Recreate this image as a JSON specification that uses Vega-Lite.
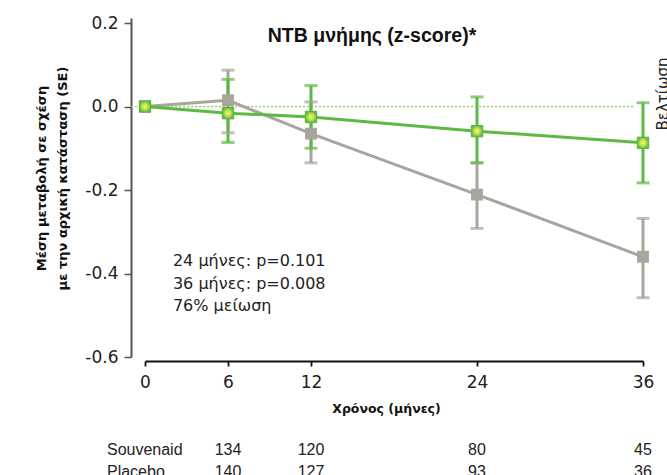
{
  "$schema": "https://vega.github.io/schema/vega-lite/v6.json",
  "width": 498,
  "height": 339,
  "autosize": {"type": "none"},
  "padding": {"left": 145, "top": 18, "right": 24, "bottom": 118},
  "background": "white",
  "config": {"view": {"stroke": null}, "font": "DejaVu Sans"},
  "title": {"text": "NTB μνήμης (z-score)*", "font": "Liberation Sans", "fontSize": 19.5, "fontWeight": "bold", "color": "#111111", "anchor": "middle", "dx": -22, "dy": 36},
  "data": {
    "values": [
      {"group": "Placebo", "t": 0, "mean": 0.0, "lo": null, "hi": null},
      {"group": "Placebo", "t": 6, "mean": 0.015, "lo": -0.063, "hi": 0.087},
      {"group": "Placebo", "t": 12, "mean": -0.065, "lo": -0.135, "hi": 0.011},
      {"group": "Placebo", "t": 24, "mean": -0.211, "lo": -0.292, "hi": -0.135},
      {"group": "Placebo", "t": 36, "mean": -0.36, "lo": -0.458, "hi": -0.268},
      {"group": "Souvenaid", "t": 0, "mean": 0.0, "lo": null, "hi": null},
      {"group": "Souvenaid", "t": 6, "mean": -0.016, "lo": -0.086, "hi": 0.065},
      {"group": "Souvenaid", "t": 12, "mean": -0.025, "lo": -0.1, "hi": 0.05},
      {"group": "Souvenaid", "t": 24, "mean": -0.059, "lo": -0.135, "hi": 0.023},
      {"group": "Souvenaid", "t": 36, "mean": -0.087, "lo": -0.183, "hi": 0.009}
    ]
  },
  "layer": [
    {
      "data": {"values": [{}]},
      "mark": {"type": "rule", "color": "#8fce6a", "strokeDash": [2, 2], "strokeWidth": 1.3},
      "encoding": {
        "x": {"datum": -1.0, "type": "quantitative"},
        "x2": {"datum": 35.4},
        "y": {"datum": 0, "type": "quantitative"}
      }
    },
    {
      "mark": {"type": "line", "strokeWidth": 3},
      "encoding": {
        "x": {
          "field": "t", "type": "quantitative",
          "scale": {"domain": [0, 36], "nice": false, "zero": false},
          "axis": {
            "values": [0, 6, 12, 24, 36], "title": "Χρόνος (μήνες)",
            "titleFont": "DejaVu Sans", "titleFontWeight": "bold", "titleFontSize": 12.5, "titleColor": "#111111",
            "titleX": 241, "titlePadding": 12,
            "labelFont": "DejaVu Sans", "labelFontSize": 17, "labelColor": "#222222", "labelPadding": 8, "labelFlush": false,
            "domainColor": "#111111", "domainWidth": 1.8, "tickColor": "#111111", "tickWidth": 1.8, "tickSize": 5,
            "offset": 4, "grid": false
          }
        },
        "y": {
          "field": "mean", "type": "quantitative",
          "scale": {"domain": [-0.6, 0.212], "nice": false, "zero": false},
          "axis": {
            "values": [-0.6, -0.4, -0.2, 0, 0.2], "format": ".1f",
            "labelExpr": "replace(datum.label, '−', '-')",
            "title": ["Μέση μεταβολή σε σχέση", "με την αρχική κατάσταση (SE)"],
            "titleFont": "DejaVu Sans", "titleFontWeight": "bold", "titleFontSize": 13, "titleColor": "#111111",
            "titleY": 160, "titlePadding": 15, "titleLineHeight": 21,
            "labelFont": "DejaVu Sans", "labelFontSize": 17, "labelColor": "#222222", "labelPadding": 6,
            "domainColor": "#555555", "domainWidth": 2, "tickColor": "#555555", "tickWidth": 1.5, "tickSize": 7,
            "offset": 14, "grid": false
          }
        },
        "color": {
          "field": "group", "type": "nominal",
          "scale": {"domain": ["Placebo", "Souvenaid"], "range": ["#a8a59d", "#5cb944"]},
          "legend": null
        }
      }
    },
    {
      "transform": [{"filter": "datum.t > 0"}],
      "mark": {"type": "rule", "strokeWidth": 3},
      "encoding": {
        "x": {"field": "t", "type": "quantitative"},
        "y": {"field": "lo", "type": "quantitative"},
        "y2": {"field": "hi"},
        "color": {"field": "group", "type": "nominal"}
      }
    },
    {
      "transform": [{"filter": "datum.t > 0"}, {"fold": ["lo", "hi"], "as": ["end", "v"]}],
      "mark": {"type": "tick", "orient": "horizontal", "size": 13, "thickness": 3},
      "encoding": {
        "x": {"field": "t", "type": "quantitative"},
        "y": {"field": "v", "type": "quantitative"},
        "color": {"field": "group", "type": "nominal"}
      }
    },
    {
      "transform": [{"filter": "datum.group == 'Placebo'"}],
      "mark": {"type": "point", "shape": "square", "filled": true, "size": 140, "color": "#a8a59d", "opacity": 1},
      "encoding": {
        "x": {"field": "t", "type": "quantitative"},
        "y": {"field": "mean", "type": "quantitative"}
      }
    },
    {
      "transform": [{"filter": "datum.group == 'Souvenaid'"}],
      "mark": {
        "type": "point", "shape": "square", "filled": true, "size": 130, "opacity": 1,
        "fill": {"gradient": "radial", "stops": [{"offset": 0, "color": "#f2f56e"}, {"offset": 0.5, "color": "#c6e250"}, {"offset": 1, "color": "#5cb944"}]},
        "stroke": "#58b43e", "strokeWidth": 1
      },
      "encoding": {
        "x": {"field": "t", "type": "quantitative"},
        "y": {"field": "mean", "type": "quantitative"}
      }
    },
    {
      "data": {"values": [{}]},
      "mark": {
        "type": "text", "text": ["24 μήνες: p=0.101", "36 μήνες: p=0.008", "76% μείωση"],
        "font": "DejaVu Sans", "fontSize": 16, "fontWeight": "normal", "fill": "#222222", "align": "left", "baseline": "alphabetic", "lineHeight": 22.5
      },
      "encoding": {
        "x": {"datum": 2.02, "type": "quantitative"},
        "y": {"datum": -0.3825, "type": "quantitative"}
      }
    },
    {
      "data": {"values": [
        {"group": "Souvenaid", "t": 6, "n": 134},
        {"group": "Souvenaid", "t": 12, "n": 120},
        {"group": "Souvenaid", "t": 24, "n": 80},
        {"group": "Souvenaid", "t": 36, "n": 45},
        {"group": "Placebo", "t": 6, "n": 140},
        {"group": "Placebo", "t": 12, "n": 127},
        {"group": "Placebo", "t": 24, "n": 93},
        {"group": "Placebo", "t": 36, "n": 36}
      ]},
      "layer": [
        {
          "transform": [{"filter": "datum.group == 'Souvenaid'"}],
          "mark": {"type": "text", "font": "Liberation Sans", "fontSize": 16, "fontWeight": "normal", "fill": "#222222", "align": "center", "baseline": "middle"},
          "encoding": {
            "x": {"field": "t", "type": "quantitative"},
            "y": {"datum": -0.823, "type": "quantitative"},
            "text": {"field": "n", "type": "quantitative"}
          }
        },
        {
          "transform": [{"filter": "datum.group == 'Placebo'"}],
          "mark": {"type": "text", "font": "Liberation Sans", "fontSize": 16, "fontWeight": "normal", "fill": "#222222", "align": "center", "baseline": "middle"},
          "encoding": {
            "x": {"field": "t", "type": "quantitative"},
            "y": {"datum": -0.8755, "type": "quantitative"},
            "text": {"field": "n", "type": "quantitative"}
          }
        }
      ]
    },
    {
      "data": {"values": [{}]},
      "mark": {"type": "text", "text": "Souvenaid", "font": "Liberation Sans", "fontSize": 16, "fontWeight": "normal", "fill": "#222222", "align": "left", "baseline": "middle"},
      "encoding": {
        "x": {"datum": -2.75, "type": "quantitative"},
        "y": {"datum": -0.823, "type": "quantitative"}
      }
    },
    {
      "data": {"values": [{}]},
      "mark": {"type": "text", "text": "Placebo", "font": "Liberation Sans", "fontSize": 16, "fontWeight": "normal", "fill": "#222222", "align": "left", "baseline": "middle"},
      "encoding": {
        "x": {"datum": -2.75, "type": "quantitative"},
        "y": {"datum": -0.8755, "type": "quantitative"}
      }
    },
    {
      "data": {"values": [{}]},
      "mark": {"type": "text", "text": "Βελτίωση", "font": "DejaVu Sans", "fontSize": 15, "fontWeight": "normal", "fill": "#222222", "align": "center", "baseline": "middle", "angle": 270},
      "encoding": {
        "x": {"datum": 37.45, "type": "quantitative"},
        "y": {"datum": 0.03, "type": "quantitative"}
      }
    }
  ]
}
